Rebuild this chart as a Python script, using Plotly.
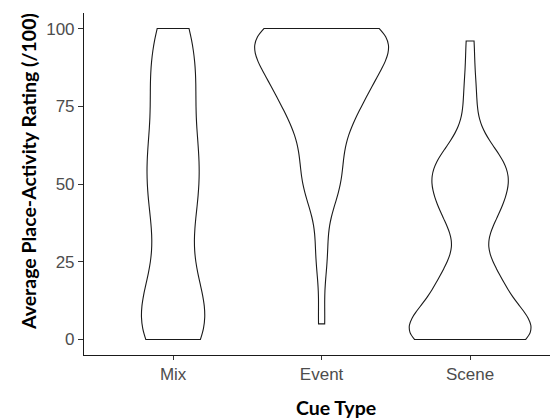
import plotly.graph_objects as go

# Cue types (x categories)
categories = ["Mix", "Event", "Scene"]

# Average place-activity ratings (/100) per cue type, estimated from the violin shapes
mix_ratings = [0, 0, 0, 0, 0, 0, 3, 4, 4, 7, 10, 10, 13, 15, 15, 18, 18, 24, 27, 29,
               38, 39, 39, 39, 46, 47, 49, 50, 52, 54, 58, 60, 61, 64, 66, 66, 66, 78, 79, 79,
               83, 84, 84, 86, 90, 97, 100, 100, 100, 100]
event_ratings = [5, 24, 31, 45, 47, 49, 50, 54, 58, 60, 61, 65, 70, 72, 72, 72, 74, 76, 77, 79,
                 80, 82, 83, 84, 85, 88, 88, 88, 88, 88, 88, 88, 93, 95, 96, 96, 96, 98, 98, 98,
                 99, 99, 99, 99, 99, 100, 100, 100, 100, 100]
scene_ratings = [0, 0, 0, 0, 0, 0, 0, 1, 1, 1, 2, 2, 2, 5, 6, 8, 8, 9, 10, 12,
                 13, 14, 18, 18, 22, 22, 23, 23, 35, 37, 39, 41, 41, 44, 45, 50, 50, 50, 51, 52,
                 53, 55, 57, 59, 59, 60, 65, 75, 83, 96]

# KDE bandwidths per group
bandwidths = [11, 8, 7]

y_tick_vals = [0, 25, 50, 75, 100]
y_tick_text = ["0", "25", "50", "75", "100"]

series = [mix_ratings, event_ratings, scene_ratings]

fig = go.Figure()
for cat, vals, bw in zip(categories, series, bandwidths):
    fig.add_trace(go.Violin(
        x=[cat] * len(vals),
        y=vals,
        name=cat,
        scalegroup="all",
        scalemode="width",
        spanmode="hard",
        bandwidth=bw,
        points=False,
        box_visible=False,
        meanline_visible=False,
        fillcolor="rgba(255,255,255,0)",
        line=dict(color="#1a1a1a", width=1.1),
        hoverinfo="skip",
        showlegend=False,
    ))

tick_font = dict(family="Liberation Sans, Arial, sans-serif", size=17, color="#4d4d4d")
title_font = dict(family="Lato, sans-serif", size=19.5, color="#000000")

W, H = 550, 420
ml, mr, mt, mb = 84, 0, 13, 65
pw, ph = W - ml - mr, H - mt - mb


def px_to_paper(px, py):
    return (px - ml) / pw, 1 - (py - mt) / ph


cx, cy = px_to_paper(336, 407)
yx, yy = px_to_paper(28, 172)

fig.update_layout(
    width=W, height=H,
    margin=dict(l=ml, r=mr, t=mt, b=mb, autoexpand=False),
    paper_bgcolor="white", plot_bgcolor="white",
    violinmode="overlay", violingap=0.1, violingroupgap=0,
    showlegend=False,
    xaxis=dict(
        type="category",
        categoryorder="array", categoryarray=categories,
        range=[-0.6, 2.538],
        showgrid=False, zeroline=False, automargin=False,
        showline=True, linecolor="#1a1a1a", linewidth=1.1,
        ticks="outside", ticklen=4, tickcolor="#333333", tickwidth=1,
        tickfont=tick_font,
    ),
    yaxis=dict(
        range=[-5, 105],
        tickvals=y_tick_vals, ticktext=y_tick_text,
        showgrid=False, zeroline=False, automargin=False,
        showline=True, linecolor="#1a1a1a", linewidth=1.1,
        ticks="outside", ticklen=5, tickcolor="#333333", tickwidth=1,
        tickfont=tick_font,
    ),
    annotations=[
        dict(text="<b>Cue Type</b>", x=cx, y=cy, xref="paper", yref="paper",
             xanchor="center", yanchor="middle", showarrow=False, font=title_font),
        dict(text="<b>Average Place-Activity Rating (/100)</b>", textangle=-90,
             x=yx, y=yy, xref="paper", yref="paper",
             xanchor="center", yanchor="middle", showarrow=False, font=title_font),
    ],
)

fig.write_html("out.html", config={"displayModeBar": False},
               post_script="document.body.style.margin='0';")
